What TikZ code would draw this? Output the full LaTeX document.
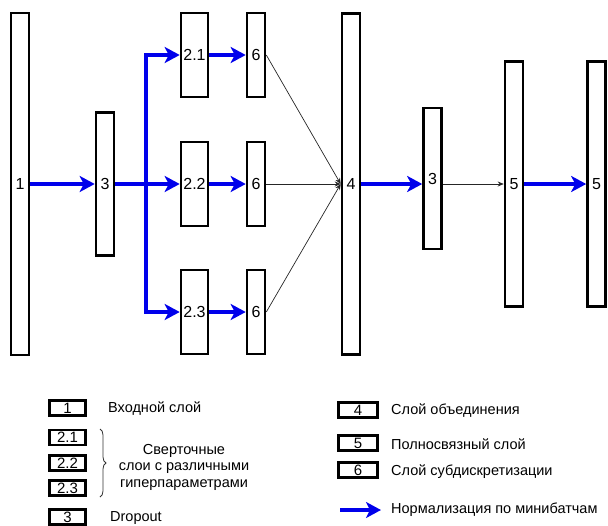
\documentclass[tikz,border=0pt]{standalone}
\usepackage{fontspec}
\setmainfont{Liberation Sans}
\usetikzlibrary{arrows.meta,decorations.pathreplacing}
\definecolor{bnblue}{RGB}{0,0,235}

\begin{document}
\begin{tikzpicture}[x=1pt,y=-1pt,font=\fontsize{14.5}{16.5}\selectfont,
  layer/.style={draw,line width=2.6pt,inner sep=0pt,minimum width=18pt,font=\fontsize{16}{18}\selectfont},
  conv/.style={layer,minimum width=27pt,minimum height=84pt},
  key/.style={draw,line width=2.4pt,inner sep=0pt,minimum height=15pt,font=\fontsize{15}{17}\selectfont},
  txt/.style={anchor=west,inner sep=0pt},
  bn/.style={draw=bnblue,line width=4pt,-{Stealth[length=15pt,width=16pt,inset=4pt]}},
  conn/.style={draw=black!85,line width=0.7pt,-{Stealth[length=6pt,width=5pt]}}]
\useasboundingbox (0,0) rectangle (608,525);
% network
\node[layer,minimum height=342pt] (in) at (20,184) {1};
\node[layer,minimum height=143pt] (drop1) at (105,184) {3};
\node[conv] (c1) at (194.5,55) {2.1};
\node[conv] (c2) at (194.5,184) {2.2};
\node[conv] (c3) at (194.5,312) {2.3};
\node[layer,minimum height=84pt] (s1) at (256,55) {6};
\node[layer,minimum height=84pt] (s2) at (256,184) {6};
\node[layer,minimum height=84pt] (s3) at (256,312) {6};
\node[layer,minimum height=341pt] (cat) at (351,184) {4};
\node[layer,minimum height=141pt] (drop2) at (432.5,178.5) {3};
\node[layer,minimum height=245pt] (fc1) at (514,184) {5};
\node[layer,minimum height=245pt] (fc2) at (596.5,184) {5};
\coordinate (fork) at (146,184);

\draw[bn] (in) -- (drop1);
\draw[bn] (drop1) -- (c2);
\draw[bn] (fork) |- (c1);
\draw[bn] (fork) |- (c3);
\foreach \i in {1,2,3} {
  \draw[bn] (c\i) -- (s\i);
  \draw[conn] (s\i.east) -- (cat.west);
}
\draw[bn] (cat) -- (drop2.west |- cat);
\draw[conn] (drop2.east |- cat) -- (fc1);
\draw[bn] (fc1) -- (fc2);

% legend
\node[key,minimum width=36pt] (k1) at (67.5,408) {1};
\node[key,minimum width=36pt] (k21) at (67.5,437.5) {2.1};
\node[key,minimum width=36pt] (k22) at (67.5,463) {2.2};
\node[key,minimum width=36pt] (k23) at (67.5,488) {2.3};
\node[key,minimum width=36pt] (k3) at (67.5,517) {3};
\node[txt] (t1) at (108,409) {Входной слой};
\node[align=center,inner sep=0pt] (t2) at (184,467) {Сверточные\\слои с различными\\гиперпараметрами};
\node[txt] (t3) at (110,518) {Dropout};
\draw[black!80,line width=0.8pt,decorate,decoration={brace,amplitude=6pt}] (100,429) -- (100,497);

\node[key,minimum width=39pt] (k4) at (358,410) {4};
\node[key,minimum width=39pt] (k5) at (358,443) {5};
\node[key,minimum width=39pt] (k6) at (358,470) {6};
\node[txt] (t4) at (391,411) {Слой объединения};
\node[txt] (t5) at (391,444) {Полносвязный слой};
\node[txt] (t6) at (391,472) {Слой субдискретизации};
\coordinate (bn0) at (340,510);
\coordinate (bn1) at (381,510);
\draw[bn] (bn0) -- (bn1);
\node[txt] (t7) at (391,510) {Нормализация по минибатчам};
\end{tikzpicture}
\end{document}
